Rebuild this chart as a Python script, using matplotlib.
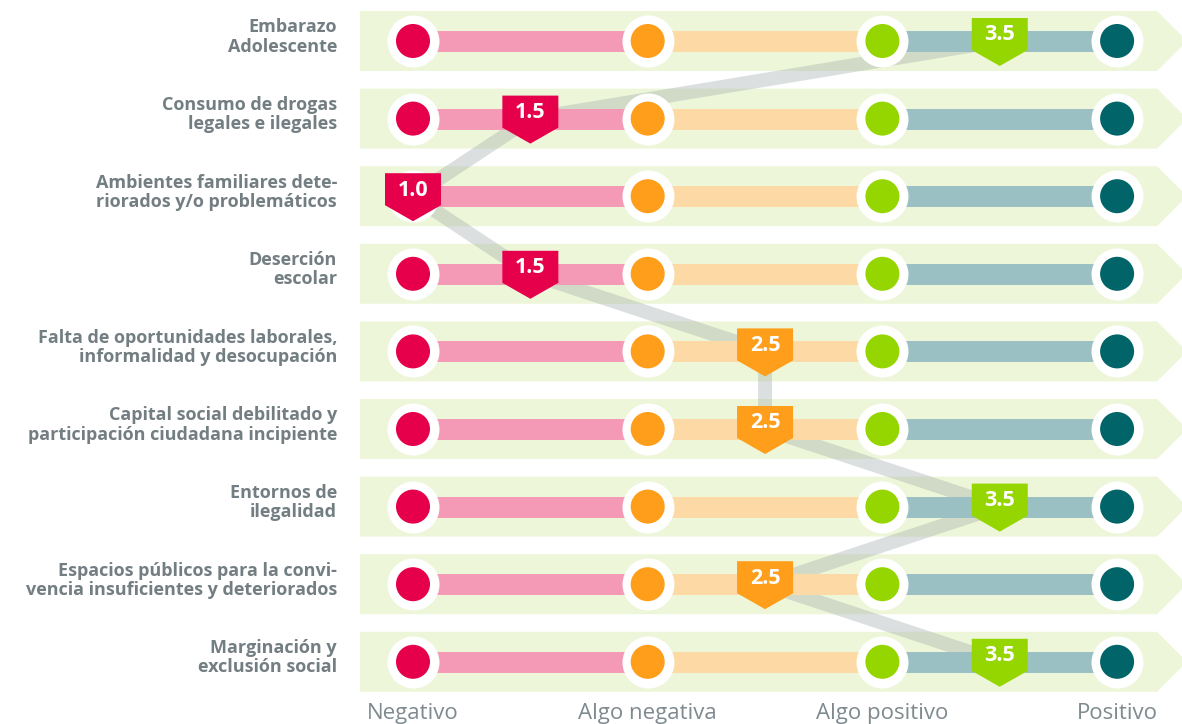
"""
plot.py — Factores de riesgo: escala de percepción por factor.

Output: out.png
"""

import numpy as np
import matplotlib
matplotlib.use("Agg")
import matplotlib.pyplot as plt
from matplotlib.patches import Polygon

# -----------------------------------------------------------------------
# Data
CATEGORIES = [
    "Embarazo\nAdolescente",
    "Consumo de drogas\nlegales e ilegales",
    "Ambientes familiares dete-\nriorados y/o problemáticos",
    "Deserción\nescolar",
    "Falta de oportunidades laborales,\ninformalidad y desocupación",
    "Capital social debilitado y\nparticipación ciudadana incipiente",
    "Entornos de\nilegalidad",
    "Espacios públicos para la convi-\nvencia insuficientes y deteriorados",
    "Marginación y\nexclusión social",
]
SCORES = [3.5, 1.5, 1.0, 1.5, 2.5, 2.5, 3.5, 2.5, 3.5]
LEVELS = ["Negativo", "Algo negativa", "Algo positivo", "Positivo"]
LEVEL_VALUES = [1, 2, 3, 4]

# Colours
LEVEL_COLORS = ["#E6004C", "#FF9E1B", "#96D600", "#006468"]
BAR_COLORS   = ["#F59AB6", "#FDD9A5", "#9BC0C3"]
BAND_COLOR   = "#EEF6DA"
LINK_COLOR   = "#9AA6A6"
LABEL_COLOR  = "#737E82"
TICK_COLOR   = "#7F8A8F"

FONT = ["Open Sans", "DejaVu Sans"]

# -----------------------------------------------------------------------
# Layout (pixel scale of one value unit / one row)
W, H, DPI = 1182, 724, 100
PX_X = 234.7
PX_Y = 77.6
X0 = 1 - 413 / PX_X
Y0 = -41 / PX_Y


def dx(px):
    return px / PX_X


def dy(px):
    return px / PX_Y


def main():
    fig = plt.figure(figsize=(W / DPI, H / DPI), dpi=DPI)
    ax = fig.add_axes([0, 0, 1, 1])
    ax.set_xlim(X0, X0 + W / PX_X)
    ax.set_ylim(Y0 + H / PX_Y, Y0)
    ax.axis("off")

    rows = np.arange(len(CATEGORIES))
    lo, hi = LEVEL_VALUES[0], LEVEL_VALUES[-1]

    for r, label in zip(rows, CATEGORIES):
        # background arrow band
        xl, xr = lo - dx(53), hi + dx(40)
        band = Polygon([(xl, r - dy(30)), (xr, r - dy(30)),
                        (xr + dx(30), r), (xr, r + dy(30)),
                        (xl, r + dy(30))],
                       closed=True, facecolor=BAND_COLOR, edgecolor="none",
                       zorder=1)
        ax.add_patch(band)

        # coloured segments between levels
        for k in range(len(LEVEL_VALUES) - 1):
            ax.plot([LEVEL_VALUES[k], LEVEL_VALUES[k + 1]], [r, r],
                    color=BAR_COLORS[k], linewidth=15.1,
                    solid_capstyle="butt", zorder=3)

        # level circles
        ax.scatter(LEVEL_VALUES, [r] * len(LEVEL_VALUES), s=1400,
                   color="white", linewidths=0, zorder=4)
        ax.scatter(LEVEL_VALUES, [r] * len(LEVEL_VALUES), s=600,
                   color=LEVEL_COLORS, linewidths=0, zorder=5)

        # category label
        ax.text(lo - dx(76), r - dy(4), label, ha="right", va="center",
                fontsize=13, fontweight="bold", color=LABEL_COLOR,
                family=FONT, linespacing=1.1)

    # grey connector through the scores
    ax.plot(SCORES, rows, color=LINK_COLOR, alpha=0.35, linewidth=10,
            solid_joinstyle="miter", solid_capstyle="butt", zorder=2)

    # score markers
    w = dx(28)
    for r, s in zip(rows, SCORES):
        col = LEVEL_COLORS[int(np.floor(s)) - 1]
        marker = Polygon([(s - w, r - dy(23)), (s + w, r - dy(23)),
                          (s + w, r + dy(9)), (s, r + dy(25)),
                          (s - w, r + dy(9))],
                         closed=True, facecolor=col, edgecolor="none",
                         zorder=6)
        ax.add_patch(marker)
        ax.text(s, r - dy(6), f"{s:.1f}", ha="center", va="center",
                fontsize=15.5, fontweight="bold", color="white",
                family=FONT, zorder=7)

    # scale labels
    for v, name in zip(LEVEL_VALUES, LEVELS):
        ax.text(v, len(CATEGORIES) - 1 + dy(52), name, ha="center",
                va="center", fontsize=16, fontweight="normal",
                color=TICK_COLOR, family=FONT)

    fig.savefig("out.png", dpi=DPI)
    plt.close(fig)


if __name__ == "__main__":
    main()
